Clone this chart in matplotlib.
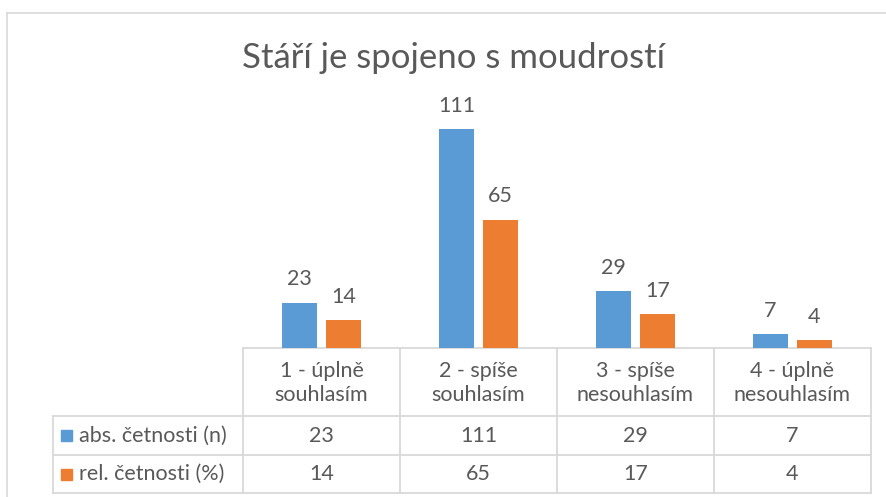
import matplotlib
matplotlib.use('Agg')
import matplotlib.pyplot as plt
import numpy as np

# data
categories = ['1 - úplně\nsouhlasím', '2 - spíše\nsouhlasím',
              '3 - spíše\nnesouhlasím', '4 - úplně\nnesouhlasím']
series_names = ['abs. četnosti (n)', 'rel. četnosti (%)']
abs_counts = [23, 111, 29, 7]
rel_counts = [14, 65, 17, 4]
title = 'Stáří je spojeno s moudrostí'

blue = '#5B9BD5'
orange = '#ED7D31'
txt_col = '#595959'
line_col = '#D9D9D9'
fs = 15.5

plt.rcParams['font.family'] = ['Lato', 'DejaVu Sans']

W, H = 886, 497
fig = plt.figure(figsize=(W / 100, H / 100), dpi=100)

# overlay axes in pixel coordinates for frame and data table
ov = fig.add_axes([0, 0, 1, 1])
ov.set_xlim(0, W)
ov.set_ylim(H, 0)
ov.axis('off')

# plot area
px_left, px_right = 243, 871
px_base, px_top = 348, 111
ax = fig.add_axes([px_left / W, 1 - px_base / H,
                   (px_right - px_left) / W, (px_base - px_top) / H])
x = np.arange(len(categories))
bw = 0.223
off = 0.14
b1 = ax.bar(x - off, abs_counts, bw, color=blue)
b2 = ax.bar(x + off, rel_counts, bw, color=orange)
ax.set_xlim(-0.5, len(categories) - 0.5)
ax.set_ylim(0, 120)
ax.axis('off')
for bars, vals in ((b1, abs_counts), (b2, rel_counts)):
    for r, v in zip(bars, vals):
        ax.annotate(str(v), (r.get_x() + r.get_width() / 2, r.get_height()),
                    xytext=(0, 9.5), textcoords='offset points',
                    ha='center', va='bottom', fontsize=fs, color=txt_col)

ov.text(454, 58, title, ha='center', va='center', fontsize=25, color=txt_col)

# chart frame
ov.plot([7, W], [13, 13], color=line_col, lw=1.2)
ov.plot([7, 7], [13, H], color=line_col, lw=1.2)

# data table
tab_left = 53
row_y = [348, 416, 455, 493]
cw = (px_right - px_left) / len(categories)
col_x = [px_left + i * cw for i in range(len(categories) + 1)]
lw = 1.3
ov.plot([px_left, px_right], [row_y[0], row_y[0]], color=line_col, lw=lw)
for yy in row_y[1:]:
    ov.plot([tab_left, px_right], [yy, yy], color=line_col, lw=lw)
for xx in col_x:
    ov.plot([xx, xx], [row_y[0], row_y[-1]], color=line_col, lw=lw)
ov.plot([tab_left, tab_left], [row_y[1], row_y[-1]], color=line_col, lw=lw)

for i, cat in enumerate(categories):
    cx = px_left + (i + 0.5) * cw
    ov.text(cx, (row_y[0] + row_y[1]) / 2 + 1, cat, ha='center', va='center',
            fontsize=fs, color=txt_col, linespacing=1.2)
    for r, vals in enumerate((abs_counts, rel_counts)):
        ov.text(cx, (row_y[r + 1] + row_y[r + 2]) / 2, str(vals[i]),
                ha='center', va='center', fontsize=fs, color=txt_col)

for r, (name, col) in enumerate(zip(series_names, (blue, orange))):
    cy = (row_y[r + 1] + row_y[r + 2]) / 2
    ov.add_patch(plt.Rectangle((61, cy - 5.5), 11, 11, color=col))
    ov.text(79, cy, name, ha='left', va='center', fontsize=fs, color=txt_col)

fig.savefig('out.png', dpi=100)
